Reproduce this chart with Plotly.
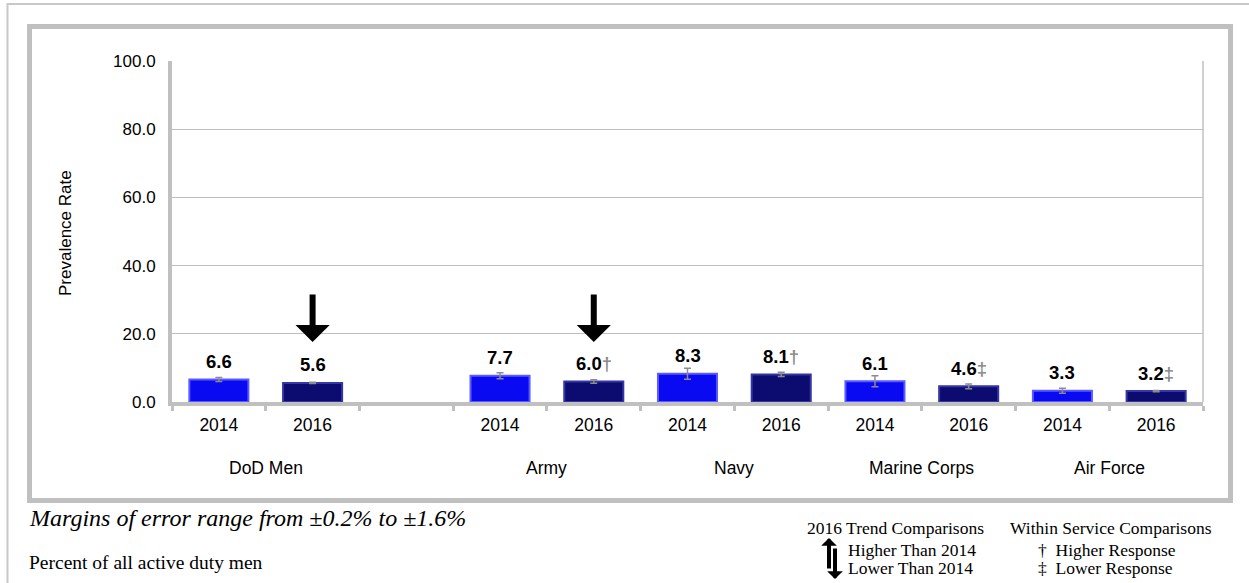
import plotly.graph_objects as go

# ---------------- data ----------------
groups = ["DoD Men", "Army", "Navy", "Marine Corps", "Air Force"]
years = ["2014", "2016"]
values_2014 = [6.6, 7.7, 8.3, 6.1, 3.3]
values_2016 = [5.6, 6.0, 8.1, 4.6, 3.2]
moe_2014 = [0.6, 0.9, 1.6, 1.6, 0.7]
moe_2016 = [0.2, 0.5, 0.6, 0.7, 0.2]
within_marks_2016 = ["", "†", "†", "‡", "‡"]
trend_2016 = ["down", "down", "", "", ""]
y_ticks = [0, 20, 40, 60, 80, 100]

# ---------------- styling ----------------
SANS = "Arial, 'Liberation Sans', sans-serif"
SERIF = "'Times New Roman', 'Liberation Serif', serif"
GRAY = "#c0c0c0"
C2014 = "#0a0af2"
C2016 = "#0c0c70"

W, H = 1249, 583
PL, PR, PT, PB = 172, 1203, 61, 402   # plot area in pixels


def px(xp):
    return (xp - PL) / (PR - PL)


def py(yp):
    return (PB - yp) / (PB - PT)


# slot positions: DoD Men, one blank slot, then the services
slot0 = []
s = 0
for gi, g in enumerate(groups):
    slot0.append(s)
    s += 2
    if gi == 0:
        s += 1
n_slots = s
x2014 = [p for p in slot0]
x2016 = [p + 1 for p in slot0]

fig = go.Figure()
fig.add_trace(go.Bar(
    x=x2014, y=values_2014, width=0.63, name="2014",
    marker=dict(color=C2014, line=dict(color="#5a5aff", width=2)),
    error_y=dict(type="data", array=moe_2014, color="#8c8c8c", thickness=1.5, width=3.5),
))
fig.add_trace(go.Bar(
    x=x2016, y=values_2016, width=0.63, name="2016",
    marker=dict(color=C2016, line=dict(color="#3535a5", width=2)),
    error_y=dict(type="data", array=moe_2016, color="#8c8c8c", thickness=1.5, width=3.5),
))

ann = []
# value labels
for xs, vals, marks in ((x2014, values_2014, [""] * len(groups)),
                        (x2016, values_2016, within_marks_2016)):
    for x, v, m in zip(xs, vals, marks):
        t = f"<b>{v:.1f}"
        if m:
            t += f"<span style='color:#8c8c8c'>{m}</span>"
        t += "</b>"
        ann.append(dict(x=x, y=v, xref="x", yref="y", text=t, showarrow=False,
                        yanchor="middle", yshift=18,
                        font=dict(family=SANS, size=18.5, color="black")))

# trend arrows
for x, tr in zip(x2016, trend_2016):
    if tr == "down":
        ann.append(dict(x=x, y=py(342), xref="x", yref="paper", text="", showarrow=True,
                        ax=0, ay=-49, axref="pixel", ayref="pixel",
                        arrowhead=1, arrowwidth=6, arrowsize=0.95, arrowcolor="black"))

# group labels
for g, p in zip(groups, slot0):
    ann.append(dict(x=p + 0.5, y=py(468), xref="x", yref="paper", text=g, showarrow=False,
                    yanchor="middle", font=dict(family=SANS, size=17.5, color="black")))

# y-axis title
ann.append(dict(x=px(65), y=py(233), xref="paper", yref="paper", text="Prevalence Rate",
                textangle=-90, showarrow=False, xanchor="center", yanchor="middle",
                font=dict(family=SANS, size=17, color="black")))

# footer texts
ann.append(dict(x=px(27), y=py(518), xref="paper", yref="paper",
                text="<i>Margins of error range from ±0.2% to ±1.6%</i>",
                showarrow=False, xanchor="left", yanchor="middle",
                font=dict(family=SERIF, size=24, color="black")))
ann.append(dict(x=px(27), y=py(562), xref="paper", yref="paper",
                text="Percent of all active duty men",
                showarrow=False, xanchor="left", yanchor="middle",
                font=dict(family=SERIF, size=19.5, color="black")))

# legend texts
leg_font = dict(family=SERIF, size=17.5, color="black")
ann.append(dict(x=px(895), y=py(528), xref="paper", yref="paper", text="2016 Trend Comparisons",
                showarrow=False, xanchor="center", yanchor="middle", font=leg_font))
ann.append(dict(x=px(1111), y=py(528), xref="paper", yref="paper", text="Within Service Comparisons",
                showarrow=False, xanchor="center", yanchor="middle", font=leg_font))
ann.append(dict(x=px(846), y=py(550), xref="paper", yref="paper", text="Higher Than 2014",
                showarrow=False, xanchor="left", yanchor="middle", font=leg_font))
ann.append(dict(x=px(846), y=py(568), xref="paper", yref="paper", text="Lower Than 2014",
                showarrow=False, xanchor="left", yanchor="middle", font=leg_font))
ann.append(dict(x=px(1036), y=py(550), xref="paper", yref="paper", text="†  Higher Response",
                showarrow=False, xanchor="left", yanchor="middle", font=leg_font))
ann.append(dict(x=px(1036), y=py(568), xref="paper", yref="paper", text="‡  Lower Response",
                showarrow=False, xanchor="left", yanchor="middle", font=leg_font))
# legend arrow icons
ann.append(dict(x=px(829), y=py(538), xref="paper", yref="paper", text="", showarrow=True,
                ax=0, ay=32, arrowhead=1, arrowwidth=4, arrowsize=0.65, arrowcolor="black"))
ann.append(dict(x=px(835), y=py(579), xref="paper", yref="paper", text="", showarrow=True,
                ax=0, ay=-32, arrowhead=1, arrowwidth=4, arrowsize=0.65, arrowcolor="black"))

shapes = [
    # outer thin frame
    dict(type="rect", xref="paper", yref="paper", x0=px(7.5), y0=py(620), x1=px(1300), y1=py(4),
         line=dict(color="#c8c8c8", width=2), layer="below"),
    # inner thick frame
    dict(type="rect", xref="paper", yref="paper", x0=px(29.5), y0=py(500.5), x1=px(1230.5), y1=py(26.5),
         line=dict(color=GRAY, width=5), layer="below"),
    # right border of plot area
    dict(type="line", xref="paper", yref="paper", x0=1, x1=1, y0=0, y1=1,
         line=dict(color=GRAY, width=1.5)),
]

fig.update_layout(
    width=W, height=H,
    margin=dict(l=PL, r=W - PR, t=PT, b=H - PB),
    paper_bgcolor="white", plot_bgcolor="white",
    barmode="overlay", showlegend=False, hovermode=False,
    annotations=ann, shapes=shapes,
    xaxis=dict(range=[-0.5, n_slots - 0.5], tickvals=x2014 + x2016,
               ticktext=[years[0]] * len(groups) + [years[1]] * len(groups),
               ticks="", showgrid=False, zeroline=False,
               showline=True, linecolor=GRAY, linewidth=4,
               tickfont=dict(family=SANS, size=17.5, color="black"),
               ticklabelstandoff=4,
               minor=dict(ticks="outside", tickmode="linear", tick0=-0.5, dtick=1,
                          ticklen=5, tickwidth=3, tickcolor=GRAY, showgrid=False)),
    yaxis=dict(range=[0, 100], tickvals=y_ticks, tickformat=".1f",
               showgrid=True, gridcolor="#bfbfbf", gridwidth=1, zeroline=False,
               showline=True, linecolor=GRAY, linewidth=4, ticks="",
               tickfont=dict(family=SANS, size=17, color="black"),
               ticklabelstandoff=9),
)

fig.write_html("out.html", config={"displayModeBar": False},
               post_script="document.body.style.margin='0';document.body.style.overflow='hidden';")
